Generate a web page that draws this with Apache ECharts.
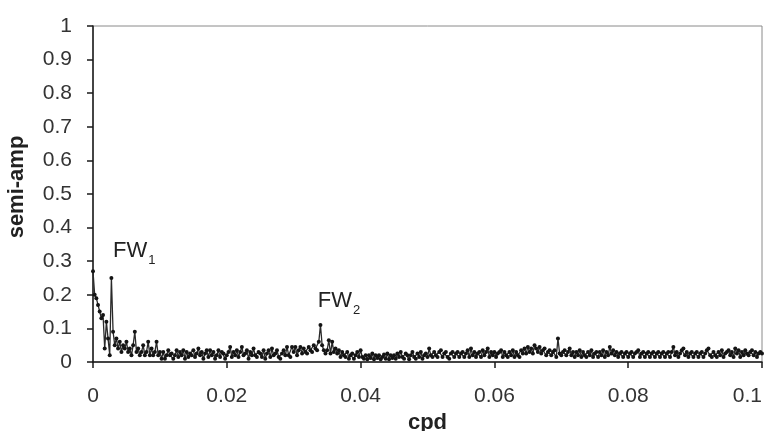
<!DOCTYPE html>
<html>
<head>
<meta charset="utf-8">
<script src="https://cdn.jsdelivr.net/npm/echarts@6/dist/echarts.min.js"></script>
<style>
  html, body { margin: 0; padding: 0; background: #ffffff; }
  #chart { width: 764px; height: 431px; }
</style>
</head>
<body>
<div id="chart"></div>
<script>
// Frequency step of the amplitude spectrum (cycles per day)
const freqStep = 0.00025;

// Semi-amplitude values, one block per 0.005 cpd
const amp00 = [0.27, 0.20, 0.19, 0.17, 0.15, 0.13, 0.14, 0.04, 0.12, 0.07, 0.02, 0.25, 0.09, 0.05, 0.07, 0.04, 0.06, 0.03, 0.05, 0.04];
const amp01 = [0.06, 0.03, 0.04, 0.02, 0.05, 0.09, 0.03, 0.04, 0.02, 0.03, 0.05, 0.02, 0.03, 0.06, 0.02, 0.04, 0.02, 0.03, 0.06, 0.02];
const amp02 = [0.03, 0.01, 0.03, 0.01, 0.02, 0.035, 0.02, 0.025, 0.01, 0.02, 0.035, 0.015, 0.03, 0.02, 0.035, 0.01, 0.03, 0.015, 0.025, 0.02];
const amp03 = [0.035, 0.015, 0.025, 0.04, 0.02, 0.03, 0.01, 0.025, 0.035, 0.015, 0.035, 0.02, 0.03, 0.01, 0.02, 0.035, 0.015, 0.03, 0.025, 0.01];
const amp04 = [0.02, 0.03, 0.045, 0.015, 0.03, 0.02, 0.035, 0.015, 0.03, 0.045, 0.02, 0.025, 0.035, 0.01, 0.03, 0.02, 0.04, 0.02, 0.015, 0.03];
const amp05 = [0.025, 0.015, 0.035, 0.01, 0.025, 0.035, 0.015, 0.04, 0.02, 0.025, 0.035, 0.015, 0.01, 0.025, 0.035, 0.02, 0.045, 0.02, 0.015, 0.045];
const amp06 = [0.03, 0.045, 0.02, 0.035, 0.045, 0.025, 0.04, 0.03, 0.025, 0.045, 0.035, 0.03, 0.05, 0.04, 0.035, 0.06, 0.11, 0.05, 0.035, 0.025];
const amp07 = [0.035, 0.065, 0.025, 0.06, 0.03, 0.04, 0.025, 0.035, 0.015, 0.03, 0.02, 0.015, 0.03, 0.01, 0.02, 0.025, 0.01, 0.02, 0.03, 0.015];
const amp08 = [0.035, 0.015, 0.01, 0.02, 0.008, 0.02, 0.012, 0.025, 0.008, 0.02, 0.012, 0.02, 0.008, 0.015, 0.022, 0.01, 0.025, 0.008, 0.02, 0.012];
const amp09 = [0.02, 0.01, 0.025, 0.015, 0.03, 0.015, 0.01, 0.025, 0.02, 0.008, 0.02, 0.03, 0.015, 0.01, 0.025, 0.015, 0.03, 0.01, 0.02, 0.025];
const amp10 = [0.015, 0.04, 0.02, 0.015, 0.03, 0.02, 0.015, 0.03, 0.035, 0.015, 0.025, 0.03, 0.015, 0.01, 0.025, 0.03, 0.015, 0.025, 0.03, 0.015];
const amp11 = [0.025, 0.03, 0.015, 0.025, 0.035, 0.015, 0.04, 0.02, 0.03, 0.015, 0.025, 0.03, 0.015, 0.035, 0.02, 0.03, 0.04, 0.015, 0.03, 0.02];
const amp12 = [0.03, 0.015, 0.025, 0.03, 0.035, 0.015, 0.03, 0.02, 0.015, 0.03, 0.02, 0.035, 0.015, 0.03, 0.02, 0.015, 0.035, 0.025, 0.04, 0.025];
const amp13 = [0.045, 0.03, 0.04, 0.025, 0.05, 0.04, 0.03, 0.045, 0.025, 0.035, 0.04, 0.02, 0.03, 0.035, 0.02, 0.03, 0.035, 0.015, 0.07, 0.025];
const amp14 = [0.02, 0.03, 0.035, 0.02, 0.03, 0.04, 0.02, 0.03, 0.015, 0.03, 0.02, 0.035, 0.015, 0.03, 0.02, 0.015, 0.03, 0.02, 0.035, 0.015];
const amp15 = [0.025, 0.03, 0.015, 0.03, 0.02, 0.035, 0.015, 0.03, 0.02, 0.045, 0.025, 0.035, 0.02, 0.03, 0.015, 0.025, 0.03, 0.015, 0.025, 0.03];
const amp16 = [0.015, 0.025, 0.03, 0.015, 0.025, 0.03, 0.035, 0.015, 0.025, 0.03, 0.015, 0.025, 0.03, 0.015, 0.025, 0.03, 0.015, 0.025, 0.03, 0.015];
const amp17 = [0.025, 0.03, 0.015, 0.025, 0.03, 0.015, 0.03, 0.045, 0.02, 0.03, 0.015, 0.025, 0.035, 0.04, 0.02, 0.03, 0.015, 0.025, 0.03, 0.015];
const amp18 = [0.025, 0.03, 0.015, 0.025, 0.03, 0.015, 0.025, 0.035, 0.04, 0.02, 0.015, 0.03, 0.02, 0.015, 0.03, 0.02, 0.035, 0.015, 0.025, 0.03];
const amp19 = [0.035, 0.02, 0.03, 0.015, 0.04, 0.025, 0.035, 0.015, 0.03, 0.02, 0.035, 0.025, 0.02, 0.03, 0.035, 0.02, 0.03, 0.015, 0.025, 0.03];
const amp20 = [0.025];

// Axis ticks
const xTicks = [0, 0.02, 0.04, 0.06, 0.08, 0.1];
const yTicks = [0, 0.1, 0.2, 0.3, 0.4, 0.5, 0.6, 0.7, 0.8, 0.9, 1];

// Peak annotations: [frequency, amplitude of label anchor, main text, subscript]
const peakLabels = [
  [0.0030, 0.327, 'FW', '1'],
  [0.0336, 0.179, 'FW', '2']
];

const amplitudes = [].concat(amp00, amp01, amp02, amp03, amp04, amp05, amp06, amp07, amp08, amp09,
  amp10, amp11, amp12, amp13, amp14, amp15, amp16, amp17, amp18, amp19, amp20);
const spectrum = amplitudes.map((a, i) => [+(i * freqStep).toFixed(5), a]);

const font = 'Liberation Sans, Arial, sans-serif';
const chart = echarts.init(document.getElementById('chart'), null, { renderer: 'canvas' });

chart.setOption({
  backgroundColor: '#ffffff',
  animation: false,
  grid: {
    left: 93, right: 2, top: 26, bottom: 69,
    outerBoundsMode: 'none',
    containLabel: false,
    show: true, borderColor: '#8a8a8a', borderWidth: 1, backgroundColor: 'transparent'
  },
  xAxis: {
    type: 'value',
    min: xTicks[0], max: xTicks[xTicks.length - 1], interval: 0.02,
    name: 'cpd', nameLocation: 'middle', nameGap: 43,
    nameTextStyle: { fontFamily: font, fontSize: 22, fontWeight: 'bold', color: '#222' },
    axisLine: { onZero: false, lineStyle: { color: '#1a1a1a', width: 1.5 } },
    axisTick: { show: true, inside: false, length: 6, lineStyle: { color: '#1a1a1a', width: 1.5 } },
    axisLabel: {
      margin: 24, fontFamily: font, fontSize: 21, color: '#333',
      alignMaxLabel: 'right',
      formatter: v => String(+v.toFixed(2))
    },
    splitLine: { show: false }
  },
  yAxis: {
    type: 'value',
    min: yTicks[0], max: yTicks[yTicks.length - 1], interval: 0.1,
    axisLine: { onZero: false, lineStyle: { color: '#1a1a1a', width: 1.5 } },
    axisTick: { show: true, inside: false, length: 6, lineStyle: { color: '#1a1a1a', width: 1.5 } },
    axisLabel: {
      margin: 21, fontFamily: font, fontSize: 21, color: '#333',
      formatter: v => String(+v.toFixed(1))
    },
    splitLine: { show: false }
  },
  series: [{
    type: 'line',
    data: spectrum,
    showSymbol: true,
    symbol: 'circle',
    symbolSize: 4,
    lineStyle: { color: '#2a2a2a', width: 1.3 },
    itemStyle: { color: '#141414' },
    clip: true,
    z: 3
  }]
});

// Peak labels placed at their data positions, plus the rotated y-axis title
const graphics = peakLabels.map(p => {
  const pt = chart.convertToPixel({ gridIndex: 0 }, [p[0], p[1]]);
  return {
    type: 'text',
    left: pt[0],
    top: pt[1] - 12,
    z: 10,
    style: {
      text: '{m|' + p[2] + '}{s|' + p[3] + '}',
      rich: {
        m: { fontFamily: font, fontSize: 22, fill: '#222', verticalAlign: 'bottom', lineHeight: 24 },
        s: { fontFamily: font, fontSize: 13, fill: '#222', verticalAlign: 'bottom', lineHeight: 16, padding: [0, 0, -5, 1] }
      }
    }
  };
});
graphics.push({
  type: 'text',
  x: 17, y: 187,
  rotation: Math.PI / 2,
  z: 10,
  style: {
    text: 'semi-amp',
    fontFamily: font, fontSize: 22, fontWeight: 'bold', fill: '#222',
    align: 'center', verticalAlign: 'middle'
  }
});
chart.setOption({ graphic: graphics });
</script>
</body>
</html>
